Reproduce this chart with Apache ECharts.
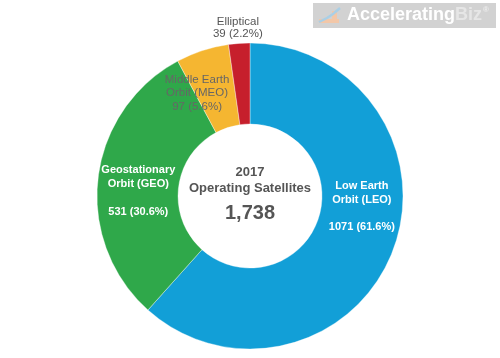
<!DOCTYPE html>
<html>
<head>
<meta charset="utf-8">
<script src="https://cdn.jsdelivr.net/npm/echarts@6/dist/echarts.min.js"></script>
<style>
html,body{margin:0;padding:0;background:#fff;}
#c{width:500px;height:358px;}
</style>
</head>
<body>
<div id="c"></div>
<script>
var categories = ['Low Earth\nOrbit (LEO)', 'Geostationary\nOrbit (GEO)', 'Middle Earth\nOrbit (MEO)', 'Elliptical'];
var values = [1071, 531, 97, 39];
var colors = ['#129fd7', '#2fa84a', '#f5b631', '#c61f2c'];
var centerTitle = ['2017', 'Operating Satellites'];
var total = values.reduce(function(a, b){ return a + b; }, 0);

// label placement tweaks (offsets from ring mid-radius) and styles
var labelShift = [[4, -31], [3, 9], [-17, 7], [-4, -53]];
var labelStyles = [
  {color: '#fff', fontWeight: 'bold', fontSize: 11, lineHeight: 13.5, blank: true},
  {color: '#fff', fontWeight: 'bold', fontSize: 11, lineHeight: 14, blank: true},
  {color: '#666', fontWeight: 'normal', fontSize: 11.5, lineHeight: 13.5, blank: false},
  {color: '#555', fontWeight: 'normal', fontSize: 11.5, lineHeight: 12.5, blank: false}
];

var chart = echarts.init(document.getElementById('c'), null, {renderer: 'canvas'});

var data = categories.map(function(name, i){
  var st = labelStyles[i];
  return {
    name: name,
    value: values[i],
    itemStyle: {color: colors[i]},
    label: {
      color: st.color,
      fontWeight: st.fontWeight,
      fontSize: st.fontSize,
      lineHeight: st.lineHeight,
      formatter: function(p){
        var pct = (p.value / total * 100).toFixed(1);
        return p.name + '\n' + (st.blank ? '\n' : '') + p.value + ' (' + pct + '%)';
      }
    }
  };
});

chart.setOption({
  animation: false,
  series: [{
    type: 'pie',
    center: [250, 196],
    radius: [72, 153],
    startAngle: 90,
    clockwise: true,
    avoidLabelOverlap: false,
    itemStyle: {borderColor: 'rgba(255,255,255,0.6)', borderWidth: 0.6},
    label: {
      show: true,
      position: 'inside',
      fontFamily: 'Liberation Sans, Arial, sans-serif',
      align: 'center'
    },
    labelLine: {show: false},
    labelLayout: function(params){
      var s = labelShift[params.dataIndex];
      return {dx: s[0], dy: s[1]};
    },
    emphasis: {disabled: true},
    data: data
  }],
  graphic: [
    {
      type: 'text', left: 'center', top: 164, z: 10,
      style: {
        text: centerTitle.join('\n'),
        fill: '#555', font: 'bold 13px "Liberation Sans", Arial, sans-serif',
        textAlign: 'center', lineHeight: 16
      }
    },
    {
      type: 'text', left: 'center', top: 203, z: 10,
      style: {
        text: total.toLocaleString('en-US'),
        fill: '#555', font: 'bold 20px "Liberation Sans", Arial, sans-serif',
        textAlign: 'center'
      }
    },
    {
      type: 'group', left: 313, top: 3,
      children: [
        {type: 'rect', shape: {x: 0, y: 0, width: 183, height: 25}, style: {fill: '#d2d2d2'}},
        {type: 'rect', shape: {x: 6, y: 16, width: 20, height: 4}, style: {fill: '#f2c7a8'}},
        {type: 'rect', shape: {x: 19, y: 8, width: 5, height: 12}, style: {fill: '#f2c7a8'}},
        {type: 'polyline', shape: {points: [[6, 19], [14, 15], [20, 11], [27, 5]]}, style: {stroke: '#a9cfe6', lineWidth: 2.5, fill: null}},
        {type: 'text', x: 34, y: 3, style: {
          text: '{a|Accelerating}{b|Biz}{c|®}',
          rich: {
            a: {fill: '#ffffff', font: 'bold 18px "Liberation Sans", Arial, sans-serif'},
            b: {fill: '#e6e6e6', font: 'bold 18px "Liberation Sans", Arial, sans-serif'},
            c: {fill: '#eeeeee', font: 'bold 8px "Liberation Sans", Arial, sans-serif', verticalAlign: 'top', padding: [0, 0, 9, 1]}
          }
        }}
      ]
    }
  ]
});
</script>
</body>
</html>
